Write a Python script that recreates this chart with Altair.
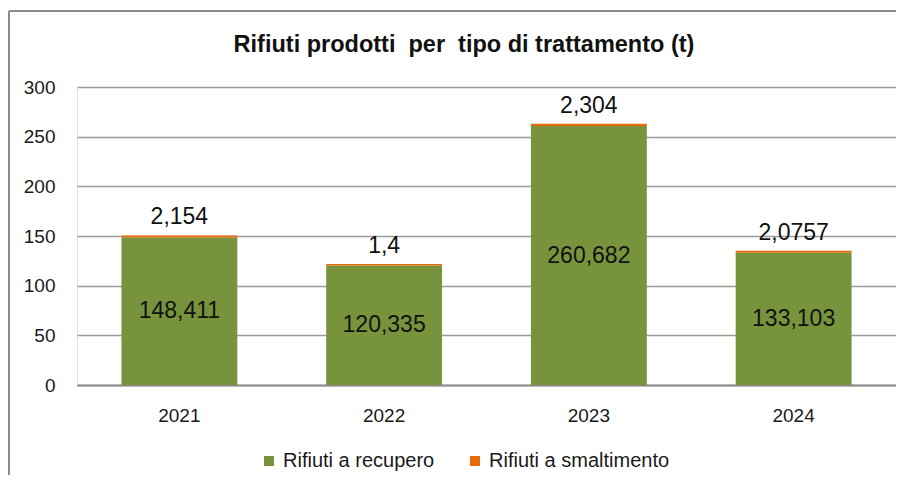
import altair as alt
import pandas as pd

anni = ["2021", "2022", "2023", "2024"]
recupero = [148.411, 120.335, 260.682, 133.103]
smaltimento = [2.154, 1.4, 2.304, 2.0757]
serie = ["Rifiuti a recupero", "Rifiuti a smaltimento"]
colori = ["#77933C", "#E46C0A"]
y_ticks = [0, 50, 100, 150, 200, 250, 300]
titolo = "Rifiuti prodotti \u00a0per \u00a0tipo di trattamento (t)"

rows = []
for a, r, s in zip(anni, recupero, smaltimento):
    rows.append({"anno": a, "tipo": serie[0], "valore": r, "ordine": 0})
    rows.append({"anno": a, "tipo": serie[1], "valore": s, "ordine": 1})
df = pd.DataFrame(rows)

FONT = "Liberation Sans"
TXT = "#1a1a1a"

x_enc = alt.X("anno:N", sort=anni, title=None,
              scale=alt.Scale(paddingInner=0.434, paddingOuter=0.217),
              axis=alt.Axis(labelAngle=0, labelFontSize=19, labelPadding=21,
                            ticks=False, domain=True, domainColor="#8a8a8a",
                            domainWidth=2, labelColor=TXT, labelFont=FONT))
y_scale = alt.Scale(domain=[0, 300], nice=False)

base = alt.Chart(df)

bars = base.mark_bar().encode(
    x=x_enc,
    y=alt.Y("valore:Q", stack="zero", scale=y_scale, title=None,
            axis=alt.Axis(values=y_ticks, ticks=False, domain=False,
                          labelFontSize=19, labelPadding=22, labelColor=TXT,
                          labelFont=FONT, grid=True, gridColor="#9a9a9a",
                          gridWidth=1.5)),
    color=alt.Color("tipo:N", scale=alt.Scale(domain=serie, range=colori),
                    legend=alt.Legend(title=None, orient="none", direction="horizontal",
                                      legendX=182, legendY=364, symbolType="square",
                                      symbolSize=100, symbolStrokeWidth=0,
                                      labelFontSize=20, labelFont=FONT, labelLimit=0,
                                      labelColor=TXT, labelOffset=4,
                                      columnPadding=30)),
    order=alt.Order("ordine:Q"),
)

inner = base.transform_filter(alt.datum.ordine == 0).transform_calculate(
    mid="datum.valore / 2",
    lab="replace(toString(datum.valore), '.', ',')",
).mark_text(fontSize=23, font=FONT, color="#111111", baseline="middle").encode(
    x=alt.X("anno:N", sort=anni),
    y=alt.Y("mid:Q", scale=y_scale),
    text="lab:N",
)

top = base.transform_joinaggregate(
    tot="sum(valore)", groupby=["anno"]
).transform_filter(alt.datum.ordine == 1).transform_calculate(
    lab="replace(toString(datum.valore), '.', ',')",
).mark_text(fontSize=23, font=FONT, color="#111111", baseline="middle", dy=-18).encode(
    x=alt.X("anno:N", sort=anni),
    y=alt.Y("tot:Q", scale=y_scale),
    text="lab:N",
)

one = pd.DataFrame({"f": [0]})
frame_left = alt.Chart(one).mark_rule(stroke="#8a8a8a", strokeWidth=2).encode(
    x=alt.value(-68), x2=alt.value(-68), y=alt.value(-76), y2=alt.value(410)
)
frame_top = alt.Chart(one).mark_rule(stroke="#8a8a8a", strokeWidth=2).encode(
    x=alt.value(-68), x2=alt.value(819), y=alt.value(-76), y2=alt.value(-76)
)
title_mark = alt.Chart(one).mark_text(
    fontSize=23.5, font=FONT, fontWeight="bold", color="#111111",
    align="center", baseline="middle"
).encode(x=alt.value(387), y=alt.value(-42), text=alt.value(titolo))

chart = alt.layer(frame_left, frame_top, title_mark, bars, inner, top).properties(
    width=819,
    height=298,
    autosize=alt.AutoSizeParams(type="none"),
    padding={"left": 69, "top": 79, "right": 0, "bottom": 90},
).configure_view(stroke=None).configure(background="white")

chart.save("out.html", embed_options={"renderer": "svg", "actions": False})
